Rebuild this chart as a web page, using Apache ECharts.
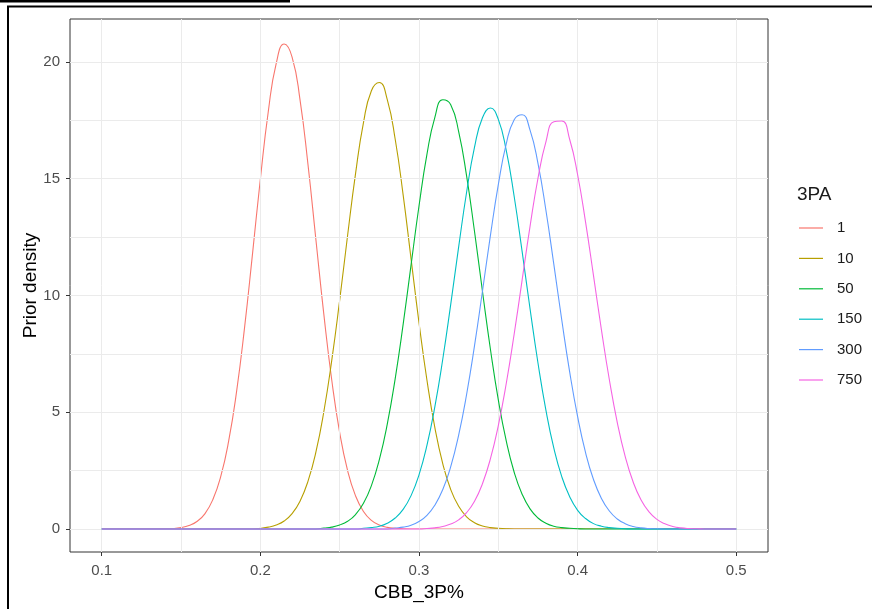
<!DOCTYPE html>
<html>
<head>
<meta charset="utf-8">
<script src="https://cdn.jsdelivr.net/npm/echarts@6/dist/echarts.min.js"></script>
<style>
html,body{margin:0;padding:0;background:#fff;}
#chart{width:872px;height:609px;}
</style>
</head>
<body>
<div id="chart"></div>
<script>
// ---- data ----
const xs = [
0.100,0.105,0.110,0.115,0.120,0.125,0.130,0.135,0.140,0.145,
0.150,0.155,0.160,0.165,0.170,0.175,0.180,0.185,0.190,0.195,
0.200,0.205,0.210,0.215,0.220,0.225,0.230,0.235,0.240,0.245,
0.250,0.255,0.260,0.265,0.270,0.275,0.280,0.285,0.290,0.295,
0.300,0.305,0.310,0.315,0.320,0.325,0.330,0.335,0.340,0.345,
0.350,0.355,0.360,0.365,0.370,0.375,0.380,0.385,0.390,0.395,
0.400,0.405,0.410,0.415,0.420,0.425,0.430,0.435,0.440,0.445,
0.450,0.455,0.460,0.465,0.470,0.475,0.480,0.485,0.490,0.495,
0.500];

const pa1 = [
0,0,0,0,0,0,0,0,0.01,0.02,
0.06,0.15,0.32,0.65,1.25,2.24,3.76,5.88,8.60,11.75,
14.99,17.88,19.94,20.77,20.21,18.38,15.62,12.40,9.20,6.38,
4.13,2.50,1.42,0.75,0.37,0.17,0.07,0.03,0.01,0,
0,0,0,0,0,0,0,0,0,0,
0,0,0,0,0,0,0,0,0,0,
0,0,0,0,0,0,0,0,0,0,
0,0,0,0,0,0,0,0,0,0,
0];

const pa10 = [
0,0,0,0,0,0,0,0,0,0,
0,0,0,0,0,0,0,0,0,0,
0.03,0.08,0.17,0.34,0.66,1.19,2.04,3.29,5.02,7.22,
9.80,12.58,15.22,17.40,18.77,19.12,18.39,16.69,14.31,11.57,
8.84,6.38,4.34,2.79,1.69,0.97,0.52,0.27,0.13,0.06,
0.03,0.01,0,0,0,0,0,0,0,0,
0,0,0,0,0,0,0,0,0,0,
0,0,0,0,0,0,0,0,0,0,
0];

const pa50 = [
0,0,0,0,0,0,0,0,0,0,
0,0,0,0,0,0,0,0,0,0,
0,0,0,0,0,0,0,0,0.04,0.08,
0.17,0.33,0.62,1.10,1.86,2.97,4.49,6.44,8.76,11.31,
13.83,16.04,17.63,18.38,18.17,17.02,15.12,12.74,10.18,7.71,
5.53,3.77,2.43,1.49,0.86,0.47,0.25,0.12,0.06,0.03,
0.01,0,0,0,0,0,0,0,0,0,
0,0,0,0,0,0,0,0,0,0,
0];

const pa150 = [
0,0,0,0,0,0,0,0,0,0,
0,0,0,0,0,0,0,0,0,0,
0,0,0,0,0,0,0,0,0,0,
0,0,0,0.03,0.06,0.12,0.25,0.47,0.84,1.43,
2.32,3.58,5.24,7.28,9.62,12.08,14.42,16.35,17.61,18.03,
17.54,16.21,14.24,11.89,9.43,7.11,5.09,3.46,2.24,1.38,
0.80,0.45,0.23,0.12,0.06,0.03,0.01,0,0,0,
0,0,0,0,0,0,0,0,0,0,
0];

const pa300 = [
0,0,0,0,0,0,0,0,0,0,
0,0,0,0,0,0,0,0,0,0,
0,0,0,0,0,0,0,0,0,0,
0,0,0,0,0,0,0,0.04,0.08,0.16,
0.32,0.58,1.02,1.69,2.67,4.02,5.76,7.85,10.18,12.56,
14.75,16.49,17.53,17.74,17.08,15.66,13.65,11.33,8.95,6.72,
4.81,3.27,2.12,1.31,0.77,0.43,0.23,0.11,0.05,0.02,
0.01,0,0,0,0,0,0,0,0,0,
0];

const pa750 = [
0,0,0,0,0,0,0,0,0,0,
0,0,0,0,0,0,0,0,0,0,
0,0,0,0,0,0,0,0,0,0,
0,0,0,0,0,0,0,0,0,0,
0,0.02,0.05,0.11,0.21,0.39,0.70,1.19,1.94,3.00,
4.43,6.23,8.35,10.66,12.96,15.02,16.58,17.44,17.47,16.68,
15.17,13.14,10.85,8.53,6.39,4.56,3.10,2.01,1.24,0.73,
0.41,0.22,0.11,0.05,0.02,0.01,0,0,0,0,
0];

const seriesNames = ['1','10','50','150','300','750'];
const seriesValues = [pa1, pa10, pa50, pa150, pa300, pa750];
const xTicks = [0.1,0.2,0.3,0.4,0.5];
const xMinor = [0.15,0.25,0.35,0.45];
const yTicks = [0,5,10,15,20];
const yMinor = [2.5,7.5,12.5,17.5];

// ---- styles ----
const colors = ['#F8766D','#B79F00','#00BA38','#00BFC4','#619CFF','#F564E3'];
const FONT = '"Liberation Sans", Arial, sans-serif';

const chart = echarts.init(document.getElementById('chart'), null, {renderer:'canvas'});

const gridLines = [];
xTicks.concat(xMinor).forEach(v => gridLines.push({xAxis: v}));
yTicks.concat(yMinor).forEach(v => gridLines.push({yAxis: v}));

const series = [{
  name: 'grid',
  type: 'line',
  data: [],
  z: 0,
  silent: true,
  markLine: {
    silent: true,
    animation: false,
    symbol: ['none','none'],
    label: {show:false},
    emphasis: {disabled:true},
    lineStyle: {color:'#EBEBEB', width:1, type:'solid'},
    data: gridLines
  }
}];

seriesNames.forEach((n, k) => {
  series.push({
    name: n,
    type: 'line',
    data: xs.map((x, i) => [x, seriesValues[k][i]]),
    symbol: 'none',
    showSymbol: false,
    smooth: 0.5,
    z: 3 + k,
    lineStyle: {color: colors[k], width: 1.1},
    itemStyle: {color: colors[k]},
    emphasis: {disabled: true}
  });
});

const option = {
  animation: false,
  backgroundColor: '#ffffff',
  textStyle: {fontFamily: FONT},
  title: {
    text: '3PA',
    left: 797,
    top: 185.5,
    padding: 0,
    textStyle: {fontFamily: FONT, fontSize: 19, fontWeight: 'normal', color: '#1A1A1A'}
  },
  legend: {
    data: seriesNames,
    orient: 'vertical',
    left: 799,
    top: 220.5,
    padding: 0,
    icon: 'rect',
    itemWidth: 24,
    itemHeight: 1.2,
    itemGap: 15.4,
    textStyle: {fontFamily: FONT, fontSize: 15, lineHeight: 15, color: '#1A1A1A', padding: [0,0,0,9]},
    selectedMode: false
  },
  grid: {
    left: 70, top: 19, width: 698, height: 533,
    show: true,
    borderColor: '#333333',
    borderWidth: 1,
    backgroundColor: '#ffffff',
    containLabel: false
  },
  xAxis: {
    type: 'value',
    min: 0.08, max: 0.52,
    name: 'CBB_3P%',
    nameLocation: 'middle',
    nameGap: 31,
    nameMoveOverlap: false,
    nameTextStyle: {fontFamily: FONT, fontSize: 19, color: '#000'},
    axisLine: {show: false, onZero: false},
    splitLine: {show: false},
    axisTick: {show: true, length: 4, lineStyle: {color: '#333333'}, customValues: xTicks},
    axisLabel: {customValues: xTicks, color: '#4D4D4D', fontSize: 15, margin: 11,
      formatter: v => Number(v).toFixed(1)}
  },
  yAxis: {
    type: 'value',
    min: -0.985, max: 21.84,
    name: 'Prior density',
    nameLocation: 'middle',
    nameGap: 30,
    nameMoveOverlap: false,
    nameTextStyle: {fontFamily: FONT, fontSize: 19, color: '#000'},
    axisLine: {show: false, onZero: false},
    splitLine: {show: false},
    axisTick: {show: true, length: 4, lineStyle: {color: '#333333'}, customValues: yTicks},
    axisLabel: {customValues: yTicks, color: '#4D4D4D', fontSize: 15, margin: 10,
      formatter: v => String(Number(v))}
  },
  graphic: [
    {type: 'rect', shape: {x: 0, y: 0, width: 290, height: 2.5}, style: {fill: '#000'}, silent: true, z: 100},
    {type: 'polyline', shape: {points: [[8, 620], [8, 6.5], [880, 6.5]]}, style: {stroke: '#000', lineWidth: 2, fill: null}, silent: true, z: 100}
  ],
  series: series
};

chart.setOption(option);
</script>
</body>
</html>
